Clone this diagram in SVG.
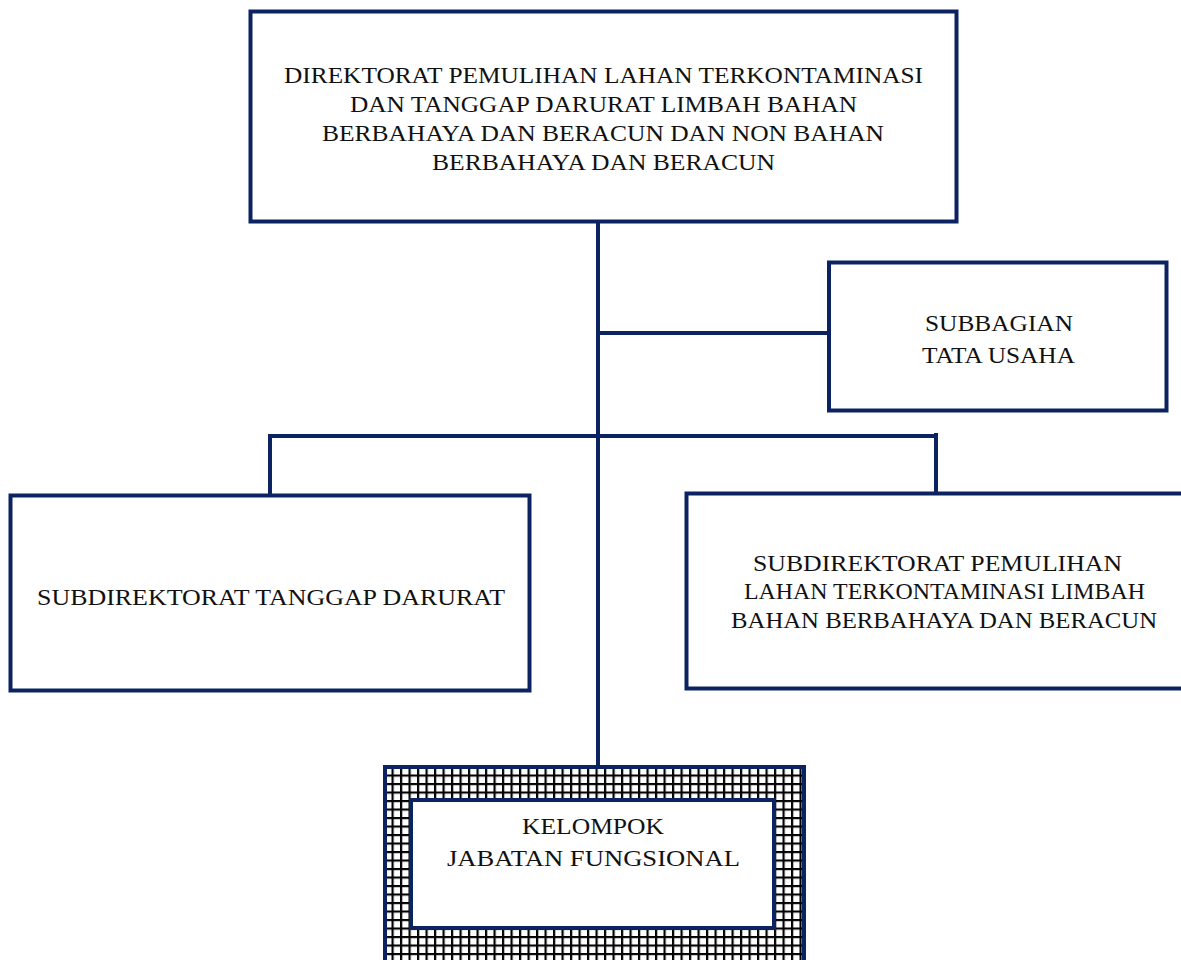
<svg xmlns="http://www.w3.org/2000/svg" width="1181" height="960" viewBox="0 0 1181 960">
<style>
.box{fill:#fff;stroke:#0b2461;stroke-width:4}
.ln{stroke:#0b2461;stroke-width:4;fill:none}
.t{font-family:"Liberation Serif","DejaVu Serif",serif;font-size:23px;fill:#111}
.tt{font-family:"Liberation Serif","DejaVu Serif",serif;font-size:23px;fill:#111}
</style>
<defs>
<pattern id="grid" x="383" y="766" width="8.5" height="8.5" patternUnits="userSpaceOnUse">
<rect width="8.5" height="8.5" fill="#fff"/>
<path d="M0 1.1H8.5M1.1 0V8.5" stroke="#000" stroke-width="2.2"/>
</pattern>
</defs>
<rect width="1181" height="960" fill="#fff"/>
<g id="connectors">
<line class="ln" x1="598" y1="221" x2="598" y2="767"/>
<line class="ln" x1="598" y1="333" x2="829" y2="333"/>
<line class="ln" x1="268" y1="436" x2="938" y2="436"/>
<line class="ln" x1="270" y1="436" x2="270" y2="495"/>
<line class="ln" x1="936" y1="433" x2="936" y2="493"/>
</g>
<g id="direktorat">
<rect class="box" x="250.5" y="11.5" width="706" height="210"/>
<text class="tt" x="284" y="83" textLength="639" lengthAdjust="spacingAndGlyphs">DIREKTORAT PEMULIHAN LAHAN TERKONTAMINASI</text>
<text class="tt" x="350" y="112" textLength="507" lengthAdjust="spacingAndGlyphs">DAN TANGGAP DARURAT LIMBAH BAHAN</text>
<text class="tt" x="322" y="141" textLength="562" lengthAdjust="spacingAndGlyphs">BERBAHAYA DAN BERACUN DAN NON BAHAN</text>
<text class="tt" x="432" y="170" textLength="343" lengthAdjust="spacingAndGlyphs">BERBAHAYA DAN BERACUN</text>
</g>
<g id="subbagian">
<rect class="box" x="829" y="262.5" width="337.5" height="148"/>
<text class="t" x="925" y="331" textLength="148" lengthAdjust="spacingAndGlyphs">SUBBAGIAN</text>
<text class="t" x="922" y="363" textLength="153" lengthAdjust="spacingAndGlyphs">TATA USAHA</text>
</g>
<g id="subdit-tanggap">
<rect class="box" x="10.5" y="495.5" width="519" height="195"/>
<text class="t" x="37" y="605" textLength="468" lengthAdjust="spacingAndGlyphs">SUBDIREKTORAT TANGGAP DARURAT</text>
</g>
<g id="subdit-pemulihan">
<rect class="box" x="686.5" y="493.5" width="520" height="195"/>
<text class="t" x="753" y="571" textLength="369" lengthAdjust="spacingAndGlyphs">SUBDIREKTORAT PEMULIHAN</text>
<text class="t" x="744" y="599" textLength="401" lengthAdjust="spacingAndGlyphs">LAHAN TERKONTAMINASI LIMBAH</text>
<text class="t" x="731" y="628" textLength="426" lengthAdjust="spacingAndGlyphs">BAHAN BERBAHAYA DAN BERACUN</text>
</g>
<g id="kelompok">
<rect x="385" y="767" width="419" height="220" fill="url(#grid)" stroke="#0b2461" stroke-width="4"/>
<rect class="box" x="411" y="800" width="363" height="128"/>
<text class="t" x="522" y="834" textLength="142" lengthAdjust="spacingAndGlyphs">KELOMPOK</text>
<text class="t" x="447" y="866" textLength="293" lengthAdjust="spacingAndGlyphs">JABATAN FUNGSIONAL</text>
</g>
</svg>
